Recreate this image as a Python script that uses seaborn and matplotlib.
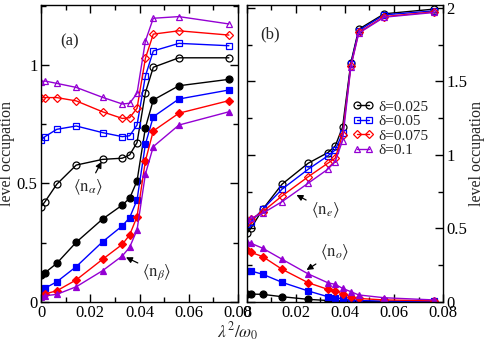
import numpy as np
import pandas as pd
import matplotlib
matplotlib.use("Agg")
import matplotlib.pyplot as plt
import matplotlib.ticker as mticker
from matplotlib.lines import Line2D
import seaborn as sns

# lambda^2 / omega_0 grid (shared by all curves)
x = [0, 0.0016, 0.0064, 0.0143, 0.025, 0.033, 0.036, 0.039, 0.0424, 0.0456, 0.056, 0.0763]

deltas = ["0.025", "0.05", "0.075", "0.1"]
colors = ["#000000", "#0000FF", "#FF0000", "#9400D3"]
markers = ["o", "s", "D", "^"]

# panel (a): <n_alpha> (open) and <n_beta> (filled)
n_alpha = [
    [0.401, 0.422, 0.496, 0.577, 0.601, 0.606, 0.620, 0.672, 0.883, 0.990, 1.030, 1.030],
    [0.683, 0.697, 0.728, 0.742, 0.714, 0.697, 0.701, 0.746, 0.953, 1.059, 1.091, 1.081],
    [0.862, 0.862, 0.862, 0.848, 0.802, 0.774, 0.777, 0.817, 1.028, 1.130, 1.144, 1.126],
    [0.929, 0.932, 0.922, 0.905, 0.863, 0.835, 0.838, 0.880, 1.101, 1.197, 1.204, 1.173],
]
n_beta = [
    [0.113, 0.122, 0.162, 0.251, 0.349, 0.408, 0.437, 0.510, 0.735, 0.852, 0.912, 0.939],
    [0.052, 0.057, 0.084, 0.148, 0.253, 0.320, 0.355, 0.430, 0.665, 0.781, 0.856, 0.894],
    [0.024, 0.033, 0.046, 0.092, 0.179, 0.242, 0.282, 0.359, 0.595, 0.721, 0.796, 0.849],
    [0.021, 0.025, 0.031, 0.063, 0.131, 0.193, 0.230, 0.303, 0.539, 0.655, 0.746, 0.802],
]

# panel (b): <n_e> (open) and <n_o> (filled)
n_e = [
    [0.466, 0.500, 0.629, 0.800, 0.943, 1.015, 1.060, 1.188, 1.628, 1.855, 1.960, 1.992],
    [0.529, 0.545, 0.629, 0.766, 0.902, 0.993, 1.033, 1.147, 1.619, 1.846, 1.953, 1.980],
    [0.545, 0.561, 0.613, 0.720, 0.851, 0.943, 0.977, 1.136, 1.606, 1.833, 1.941, 1.973],
    [0.561, 0.568, 0.602, 0.681, 0.807, 0.902, 0.954, 1.097, 1.601, 1.828, 1.937, 1.969],
]
n_o = [
    [0.052, 0.052, 0.050, 0.034, 0.016, 0.008, 0.005, 0.003, 0.002, 0.001, 0.0005, 0.0002],
    [0.211, 0.209, 0.187, 0.132, 0.073, 0.034, 0.027, 0.020, 0.012, 0.008, 0.004, 0.002],
    [0.352, 0.336, 0.307, 0.221, 0.129, 0.084, 0.073, 0.052, 0.034, 0.022, 0.012, 0.006],
    [0.409, 0.398, 0.364, 0.289, 0.189, 0.129, 0.118, 0.091, 0.068, 0.046, 0.027, 0.012],
]

sns.set_theme(style="ticks")
plt.rcParams.update({
    "font.family": ["Liberation Serif", "DejaVu Serif"],
    "mathtext.fontset": "stix",
    "font.size": 12,
    "axes.edgecolor": "black",
    "axes.linewidth": 1.0,
    "xtick.direction": "in",
    "ytick.direction": "in",
    "xtick.color": "black",
    "ytick.color": "black",
    "xtick.labelsize": 12,
    "ytick.labelsize": 12,
})


def long_df(vals):
    rows = []
    for d, ys in zip(deltas, vals):
        for xi, yi in zip(x, ys):
            rows.append({"x": xi, "y": yi, "delta": d})
    return pd.DataFrame(rows)


def draw(ax, vals, filled):
    df = long_df(vals)
    for d, c, m in zip(deltas, colors, markers):
        sub = df[df["delta"] == d]
        sns.lineplot(data=sub, x="x", y="y", ax=ax, color=c, lw=1.0,
                     marker=m, markersize=5 if m != "D" else 4.3,
                     markerfacecolor=c if filled else "none",
                     markeredgecolor=c, markeredgewidth=0.9,
                     estimator=None, sort=False, legend=False)


def style_axis(ax, ymax, label_right):
    ax.set_xlim(0, 0.08)
    ax.set_ylim(0, ymax)
    ax.xaxis.set_major_locator(mticker.MultipleLocator(0.02))
    ax.xaxis.set_minor_locator(mticker.MultipleLocator(0.01))
    ax.yaxis.set_major_locator(mticker.MultipleLocator(0.5))
    ax.yaxis.set_minor_locator(mticker.MultipleLocator(0.25))
    fmt = mticker.FuncFormatter(lambda v, p: f"{v:g}")
    ax.xaxis.set_major_formatter(fmt)
    ax.yaxis.set_major_formatter(fmt)
    ax.tick_params(which="both", top=True, right=True, left=True, bottom=True)
    ax.tick_params(which="major", length=6, width=1.0, pad=2.5)
    ax.tick_params(which="minor", length=3.5, width=1.0)
    if label_right:
        ax.tick_params(axis="y", labelleft=False, labelright=True)
        ax.yaxis.set_label_position("right")
    ax.set_xlabel("")
    ax.set_ylabel("level occupation", fontsize=11.5, labelpad=1)
    if label_right:
        ax.yaxis.label.set_rotation(90)


fig = plt.figure(figsize=(4.85, 3.45), dpi=100)
ax1 = fig.add_axes([41 / 485, 43.3 / 345, 197 / 485, 296.7 / 345])
ax2 = fig.add_axes([247 / 485, 43.3 / 345, 196 / 485, 296.7 / 345])

draw(ax1, n_alpha, filled=False)
draw(ax1, n_beta, filled=True)
draw(ax2, n_e, filled=False)
draw(ax2, n_o, filled=True)

style_axis(ax1, 1.253, label_right=False)
style_axis(ax2, 2.02, label_right=True)

ax1.text(0.147, 0.879, "(a)", transform=ax1.transAxes, fontsize=12,
         ha="center", va="center")
ax2.text(0.117, 0.902, "(b)", transform=ax2.transAxes, fontsize=12,
         ha="center", va="center")

arrow = dict(arrowstyle="-|>", color="black", lw=0.9, mutation_scale=9,
             shrinkA=1, shrinkB=0)
ax1.annotate(r"$\langle \mathrm{n}_{\alpha} \rangle$", xy=(0.0246, 0.591),
             xytext=(0.0191, 0.484), ha="center", va="center", fontsize=12,
             arrowprops=arrow)
ax1.annotate(r"$\langle \mathrm{n}_{\beta} \rangle$", xy=(0.0345, 0.1875),
             xytext=(0.0471, 0.125), ha="center", va="center", fontsize=12,
             arrowprops=arrow)
ax2.annotate(r"$\langle \mathrm{n}_{e} \rangle$", xy=(0.0202, 0.727),
             xytext=(0.0318, 0.625), ha="center", va="center", fontsize=12,
             arrowprops=arrow)
ax2.annotate(r"$\langle \mathrm{n}_{o} \rangle$", xy=(0.0243, 0.216),
             xytext=(0.0359, 0.339), ha="center", va="center", fontsize=12,
             arrowprops=arrow)

handles = [Line2D([0], [0], color=c, lw=1.0, marker=m,
                  markersize=5 if m != "D" else 4.3, markerfacecolor="none",
                  markeredgecolor=c, markeredgewidth=0.9)
           for c, m in zip(colors, markers)]
ax2.legend(handles, [f"δ={d}" for d in deltas], loc="upper left",
           bbox_to_anchor=(352 / 485, 1 - 100 / 345),
           bbox_transform=fig.transFigure, frameon=False, fontsize=11,
           numpoints=2, handlelength=1.4, handletextpad=0.3,
           labelspacing=0.05, borderpad=0, borderaxespad=0)

fig.text(238 / 485, 1 - 332 / 345, r"$\lambda^2/\omega_0$", ha="center",
         va="center", fontsize=12.5)

fig.savefig("out.png", dpi=100)
